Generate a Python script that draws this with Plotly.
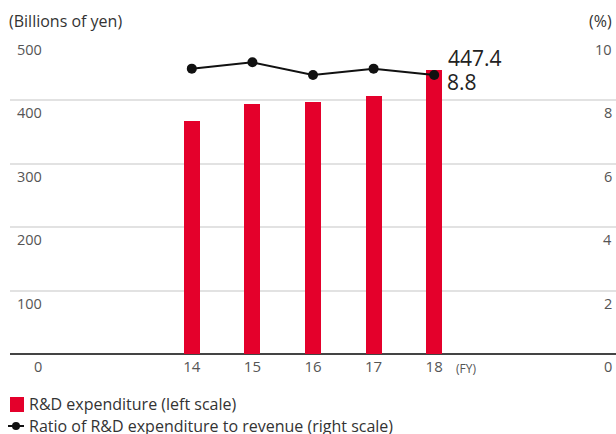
import plotly.graph_objects as go

years = [14, 15, 16, 17, 18]
year_labels = ["14", "15", "16", "17", "18"]
rd_expenditure = [368, 395, 398, 407, 447.4]
rd_ratio = [9.0, 9.2, 8.8, 9.0, 8.8]
left_ticks = [0, 100, 200, 300, 400, 500]
right_ticks = [0, 2, 4, 6, 8, 10]
legend_labels = ["R&D expenditure (left scale)",
                 "Ratio of R&D expenditure to revenue (right scale)"]

RED = "#e4002b"
FONT = "Open Sans"
W, H = 616, 434
ML, MR, MT, MB = 10, 0, 36, 434 - 354
PW, PH = W - ML - MR, H - MT - MB


def px_x(p):  # window pixel -> paper x
    return (p - ML) / PW


def px_y(p):  # window pixel -> paper y
    return (H - MB - p) / PH


fig = go.Figure()
fig.add_trace(go.Bar(
    x=years, y=rd_expenditure, width=0.265, marker=dict(color=RED, line=dict(width=0)),
    name=legend_labels[0], yaxis="y", showlegend=False,
))
fig.add_trace(go.Scatter(
    x=years, y=rd_ratio, mode="lines+markers", yaxis="y2", showlegend=False,
    line=dict(color="#111111", width=2), marker=dict(color="#111111", size=10),
    name=legend_labels[1],
))

ann = []
tickfont = dict(family=FONT, size=14.5, color="#555555")
for v in left_ticks:
    ann.append(dict(xref="paper", yref="y", x=px_x(44), y=v, text=str(v), showarrow=False,
                    xanchor="right", yanchor="top", yshift=-1, font=tickfont))
for v in right_ticks:
    ann.append(dict(xref="paper", yref="y2", x=px_x(614), y=v, text=str(v), showarrow=False,
                    xanchor="right", yanchor="top", yshift=-1, font=tickfont))
ann.append(dict(xref="paper", yref="paper", x=px_x(7), y=px_y(21), text="(Billions of yen)",
                showarrow=False, xanchor="left", yanchor="middle",
                font=dict(family=FONT, size=16, color="#333333")))
ann.append(dict(xref="paper", yref="paper", x=px_x(614), y=px_y(21), text="(%)",
                showarrow=False, xanchor="right", yanchor="middle",
                font=dict(family=FONT, size=16, color="#333333")))
ann.append(dict(xref="paper", yref="paper", x=px_x(454), y=px_y(368), text="(FY)",
                showarrow=False, xanchor="left", yanchor="middle",
                font=dict(family=FONT, size=12, color="#555555")))
ann.append(dict(xref="x", yref="y", x=years[-1], y=rd_expenditure[-1], xshift=12, yshift=12,
                text=f"{rd_expenditure[-1]:.1f}", showarrow=False, xanchor="left", yanchor="middle",
                font=dict(family=FONT, size=21, color="#222222")))
ann.append(dict(xref="x", yref="y2", x=years[-1], y=rd_ratio[-1], xshift=11, yshift=-7,
                text=f"{rd_ratio[-1]:.1f}", showarrow=False, xanchor="left", yanchor="middle",
                font=dict(family=FONT, size=21, color="#222222")))
# legend (drawn manually)
legfont = dict(family=FONT, size=16, color="#333333")
ann.append(dict(xref="paper", yref="paper", x=px_x(27), y=px_y(404), text=legend_labels[0],
                showarrow=False, xanchor="left", yanchor="middle", font=legfont))
ann.append(dict(xref="paper", yref="paper", x=px_x(27), y=px_y(426), text=legend_labels[1],
                showarrow=False, xanchor="left", yanchor="middle", font=legfont))

shapes = [
    dict(type="rect", xref="paper", yref="paper", x0=px_x(10), x1=px_x(24), y0=px_y(412), y1=px_y(397),
         fillcolor=RED, line=dict(width=0)),
    dict(type="line", xref="paper", yref="paper", x0=px_x(8), x1=px_x(24), y0=px_y(426), y1=px_y(426),
         line=dict(color="#111111", width=2)),
    dict(type="circle", xref="paper", yref="paper", x0=px_x(12), x1=px_x(20), y0=px_y(430), y1=px_y(422),
         fillcolor="#111111", line=dict(width=0)),
]

fig.update_layout(
    width=W, height=H,
    margin=dict(l=ML, r=MR, t=MT, b=MB, autoexpand=False),
    paper_bgcolor="white", plot_bgcolor="white",
    font=dict(family=FONT, color="#333333"),
    bargap=0,
    xaxis=dict(range=[11, 21], tickvals=years, ticktext=year_labels, showgrid=False,
               zeroline=False, showline=False, ticks="",
               tickfont=dict(family=FONT, size=15, color="#555555"), ticklabelstandoff=2),
    yaxis=dict(range=[0, 501.5], tickvals=left_ticks, showticklabels=False, showgrid=True,
               gridcolor="#e2e2e2", gridwidth=2, zeroline=True, zerolinecolor="#444444",
               zerolinewidth=1.5, fixedrange=True),
    yaxis2=dict(range=[0, 10.03], overlaying="y", side="right", showticklabels=False,
                showgrid=False, zeroline=False),
    annotations=ann,
    shapes=shapes,
    showlegend=False,
)

fig.write_html(
    "out.html",
    config={"displayModeBar": False},
    post_script="document.body.style.margin='0';document.body.style.overflow='hidden';"
                "document.documentElement.style.overflow='hidden';",
)
